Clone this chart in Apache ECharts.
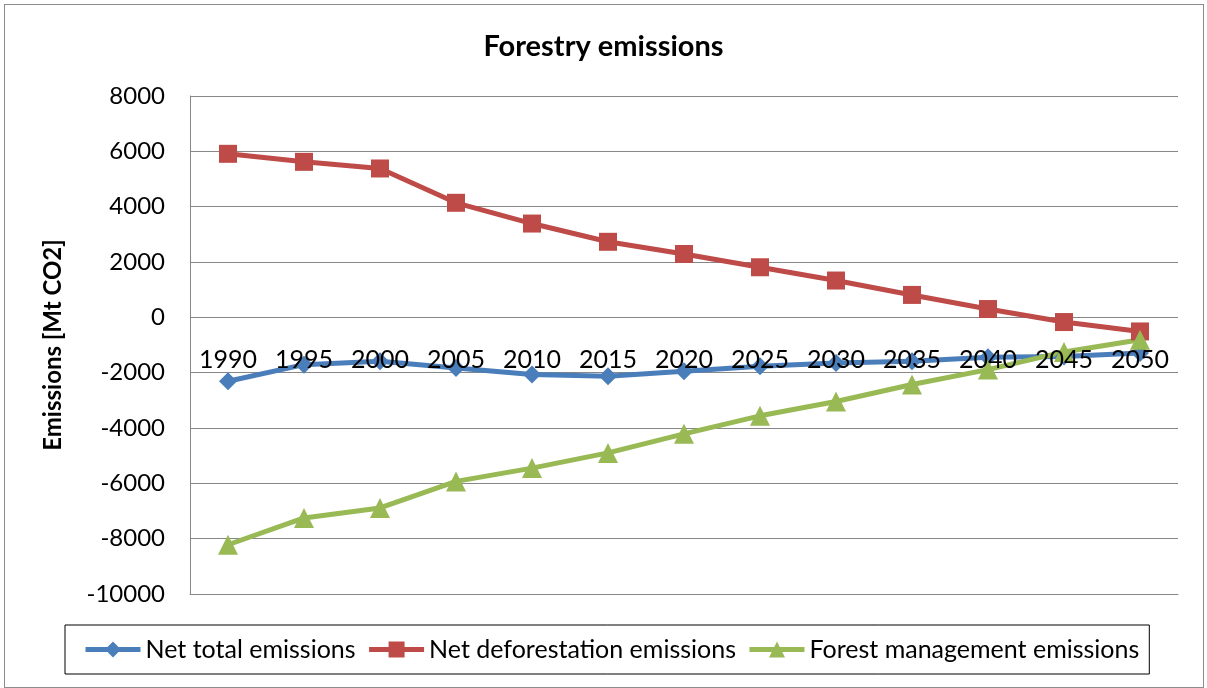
<!DOCTYPE html>
<html>
<head>
<meta charset="utf-8">
<script src="https://cdn.jsdelivr.net/npm/echarts@6/dist/echarts.min.js"></script>
<style>
  html, body { margin: 0; padding: 0; background: #fff; }
  #frame { position: absolute; left: 4px; top: 4px; width: 1198px; height: 682px; border: 1px solid #8c8c8c; }
  #chart { position: absolute; left: 0; top: 0; width: 1207px; height: 688px; }
</style>
</head>
<body>
<div id="frame"></div>
<div id="chart"></div>
<script>
// years on the category axis
const years = ['1990', '1995', '2000', '2005', '2010', '2015', '2020', '2025', '2030', '2035', '2040', '2045', '2050'];
// Mt CO2
const netTotal = [-2310, -1710, -1590, -1830, -2070, -2130, -1950, -1770, -1650, -1590, -1440, -1420, -1290];
const netDeforestation = [5910, 5620, 5380, 4140, 3390, 2730, 2290, 1810, 1330, 810, 300, -170, -510];
const forestManagement = [-8220, -7250, -6890, -5930, -5450, -4900, -4210, -3560, -3040, -2430, -1890, -1250, -810];
const yTicks = { min: -10000, max: 8000, step: 2000 };

const font = 'Lato, "Open Sans", sans-serif';
const chart = echarts.init(document.getElementById('chart'));

function lineSeries(name, data, color, symbol, size) {
  return {
    name: name,
    type: 'line',
    data: data,
    symbol: symbol,
    symbolSize: size,
    lineStyle: { color: color, width: 5 },
    itemStyle: { color: color },
    emphasis: { disabled: true }
  };
}

chart.setOption({
  animation: false,
  title: {
    text: 'Forestry emissions',
    left: 'center',
    top: 27,
    textStyle: { fontFamily: font, fontSize: 29, fontWeight: 'bold', color: '#000' }
  },
  grid: { left: 190, right: 29, top: 96, bottom: 94 },
  legend: {
    left: 65,
    top: 625,
    padding: [12, 10, 12, 18],
    borderColor: '#000',
    borderWidth: 1,
    itemWidth: 55,
    itemHeight: 20,
    itemGap: 11,
    lineStyle: { width: 5 },
    textStyle: { fontFamily: font, fontSize: 25, color: '#000' },
    data: ['Net total emissions', 'Net deforestation emissions', 'Forest management emissions']
  },
  xAxis: {
    type: 'category',
    data: years,
    boundaryGap: true,
    z: 10,
    axisLine: { onZero: false, lineStyle: { color: '#878787' } },
    axisTick: { show: false },
    // the labels sit just under the zero line, as in the original
    axisLabel: { margin: -247, verticalAlign: 'top', fontFamily: font, fontSize: 25, color: '#000' }
  },
  yAxis: {
    type: 'value',
    min: yTicks.min,
    max: yTicks.max,
    interval: yTicks.step,
    name: 'Emissions [Mt CO2]',
    nameLocation: 'middle',
    nameGap: 125,
    nameTextStyle: { fontFamily: font, fontSize: 24, fontWeight: 'bold', color: '#000' },
    axisLine: { show: true, lineStyle: { color: '#878787' } },
    axisTick: { show: false },
    axisLabel: { margin: 25, fontFamily: font, fontSize: 24, color: '#000', formatter: v => String(v) },
    splitLine: { lineStyle: { color: '#878787', width: 1 } }
  },
  series: [
    lineSeries('Net total emissions', netTotal, '#4a7ebb', 'diamond', 18),
    lineSeries('Net deforestation emissions', netDeforestation, '#be4b48', 'rect', 18),
    lineSeries('Forest management emissions', forestManagement, '#98b954', 'triangle', 20)
  ]
});
</script>
</body>
</html>
